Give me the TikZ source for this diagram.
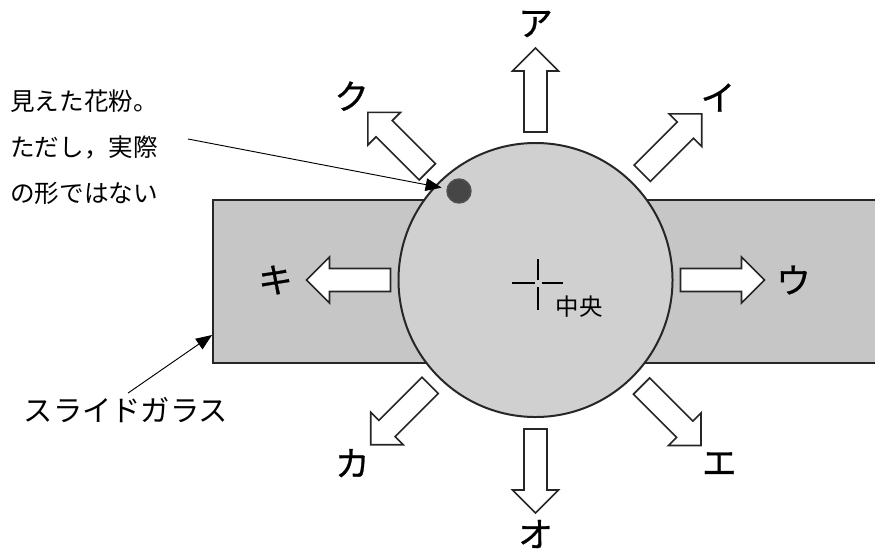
\documentclass[tikz,border=0pt]{standalone}
\usepackage{fontspec}
\setmainfont{Noto Sans CJK JP}
\newfontfamily\heavyjp[FakeBold=0.7]{Noto Sans CJK JP}
\usetikzlibrary{arrows.meta, positioning, calc}
\definecolor{glass}{RGB}{198,198,198}
\definecolor{field}{RGB}{208,208,208}
\definecolor{pollen}{RGB}{70,70,70}
\definecolor{edge}{RGB}{38,38,38}

\begin{document}
\begin{tikzpicture}[x=0.03cm, y=-0.03cm,
    slidebox/.style={rectangle, draw=edge, fill=glass, line width=1.7pt, minimum width=20.4cm, minimum height=4.89cm, anchor=north west, inner sep=0},
    fieldbox/.style={circle, draw=edge, fill=field, line width=1.7pt, minimum size=8.22cm, inner sep=0},
    dotbox/.style={circle, draw=edge!80, fill=pollen, line width=1.2pt, minimum size=0.72cm, inner sep=0},
    blk/.style={draw=edge, fill=white, line width=1.4pt, line join=miter},
    lbl/.style={font=\heavyjp\fontsize{29.5pt}{32pt}\selectfont, inner sep=0},
    note/.style={align=left, anchor=west, inner sep=0, font=\fontsize{21pt}{39.3pt}\selectfont},
    leader/.style={-{Triangle[length=0.48cm, width=0.38cm]}, line width=0.8pt, black},
    cross/.style={line width=1.6pt, black}
]
    \useasboundingbox (0,0) rectangle (875,552);

    % Slide and field of view
    \node[slidebox] (slide) at (212,199) {};
    \node[fieldbox] (view) at (535.5,280) {};

    % Direction arrows
    \foreach \ang/\rad/\lab/\far [count=\i] in {90/148/ア/256, 45/151/イ/258, 0/145/ウ/258, -45/150/エ/260, -90/149/オ/254, -135/149/カ/259, 180/145/キ/260, 135/153/ク/260}{
        \begin{scope}[shift={(view.center)}, rotate=\ang]
            \begin{scope}[shift={(\rad,0)}]
                \draw[blk] (0,-11.5) -- (61,-11.5) -- (61,-23) -- (84,0) -- (61,23) -- (61,11.5) -- (0,11.5) -- cycle;
            \end{scope}
            \node[lbl] (dir\i) at (\far,0) {\lab};
        \end{scope}
    }

    % Pollen grain
    \node[dotbox] (dot) at (459,191) {};

    % Centre mark
    \coordinate (mid) at (538,283);
    \draw[cross] ($(mid)+(-26,0)$) -- ($(mid)+(-3,0)$) ($(mid)+(4,0)$) -- ($(mid)+(25,0)$)
        ($(mid)+(0,-24)$) -- ($(mid)+(0,-3)$) ($(mid)+(0,4)$) -- ($(mid)+(0,27)$);
    \node[font=\fontsize{20pt}{22pt}\selectfont, inner sep=0] (midlab) at (579,307) {中央};

    % Notes
    \node[note] (note) at (10,147) {見えた花粉。\\ただし，実際\\の形ではない};
    \node[font=\fontsize{25pt}{28pt}\selectfont, inner sep=0] (slidelab) at (126,410) {スライドガラス};

    % Leaders
    \coordinate (notetail) at (188,139);
    \coordinate (slidept) at (212,335);
    \draw[leader, shorten >=0.15cm] (notetail) -- (dot);
    \draw[leader] ($(slidelab.north)+(2,-4)$) -- (slidept);
\end{tikzpicture}
\end{document}
